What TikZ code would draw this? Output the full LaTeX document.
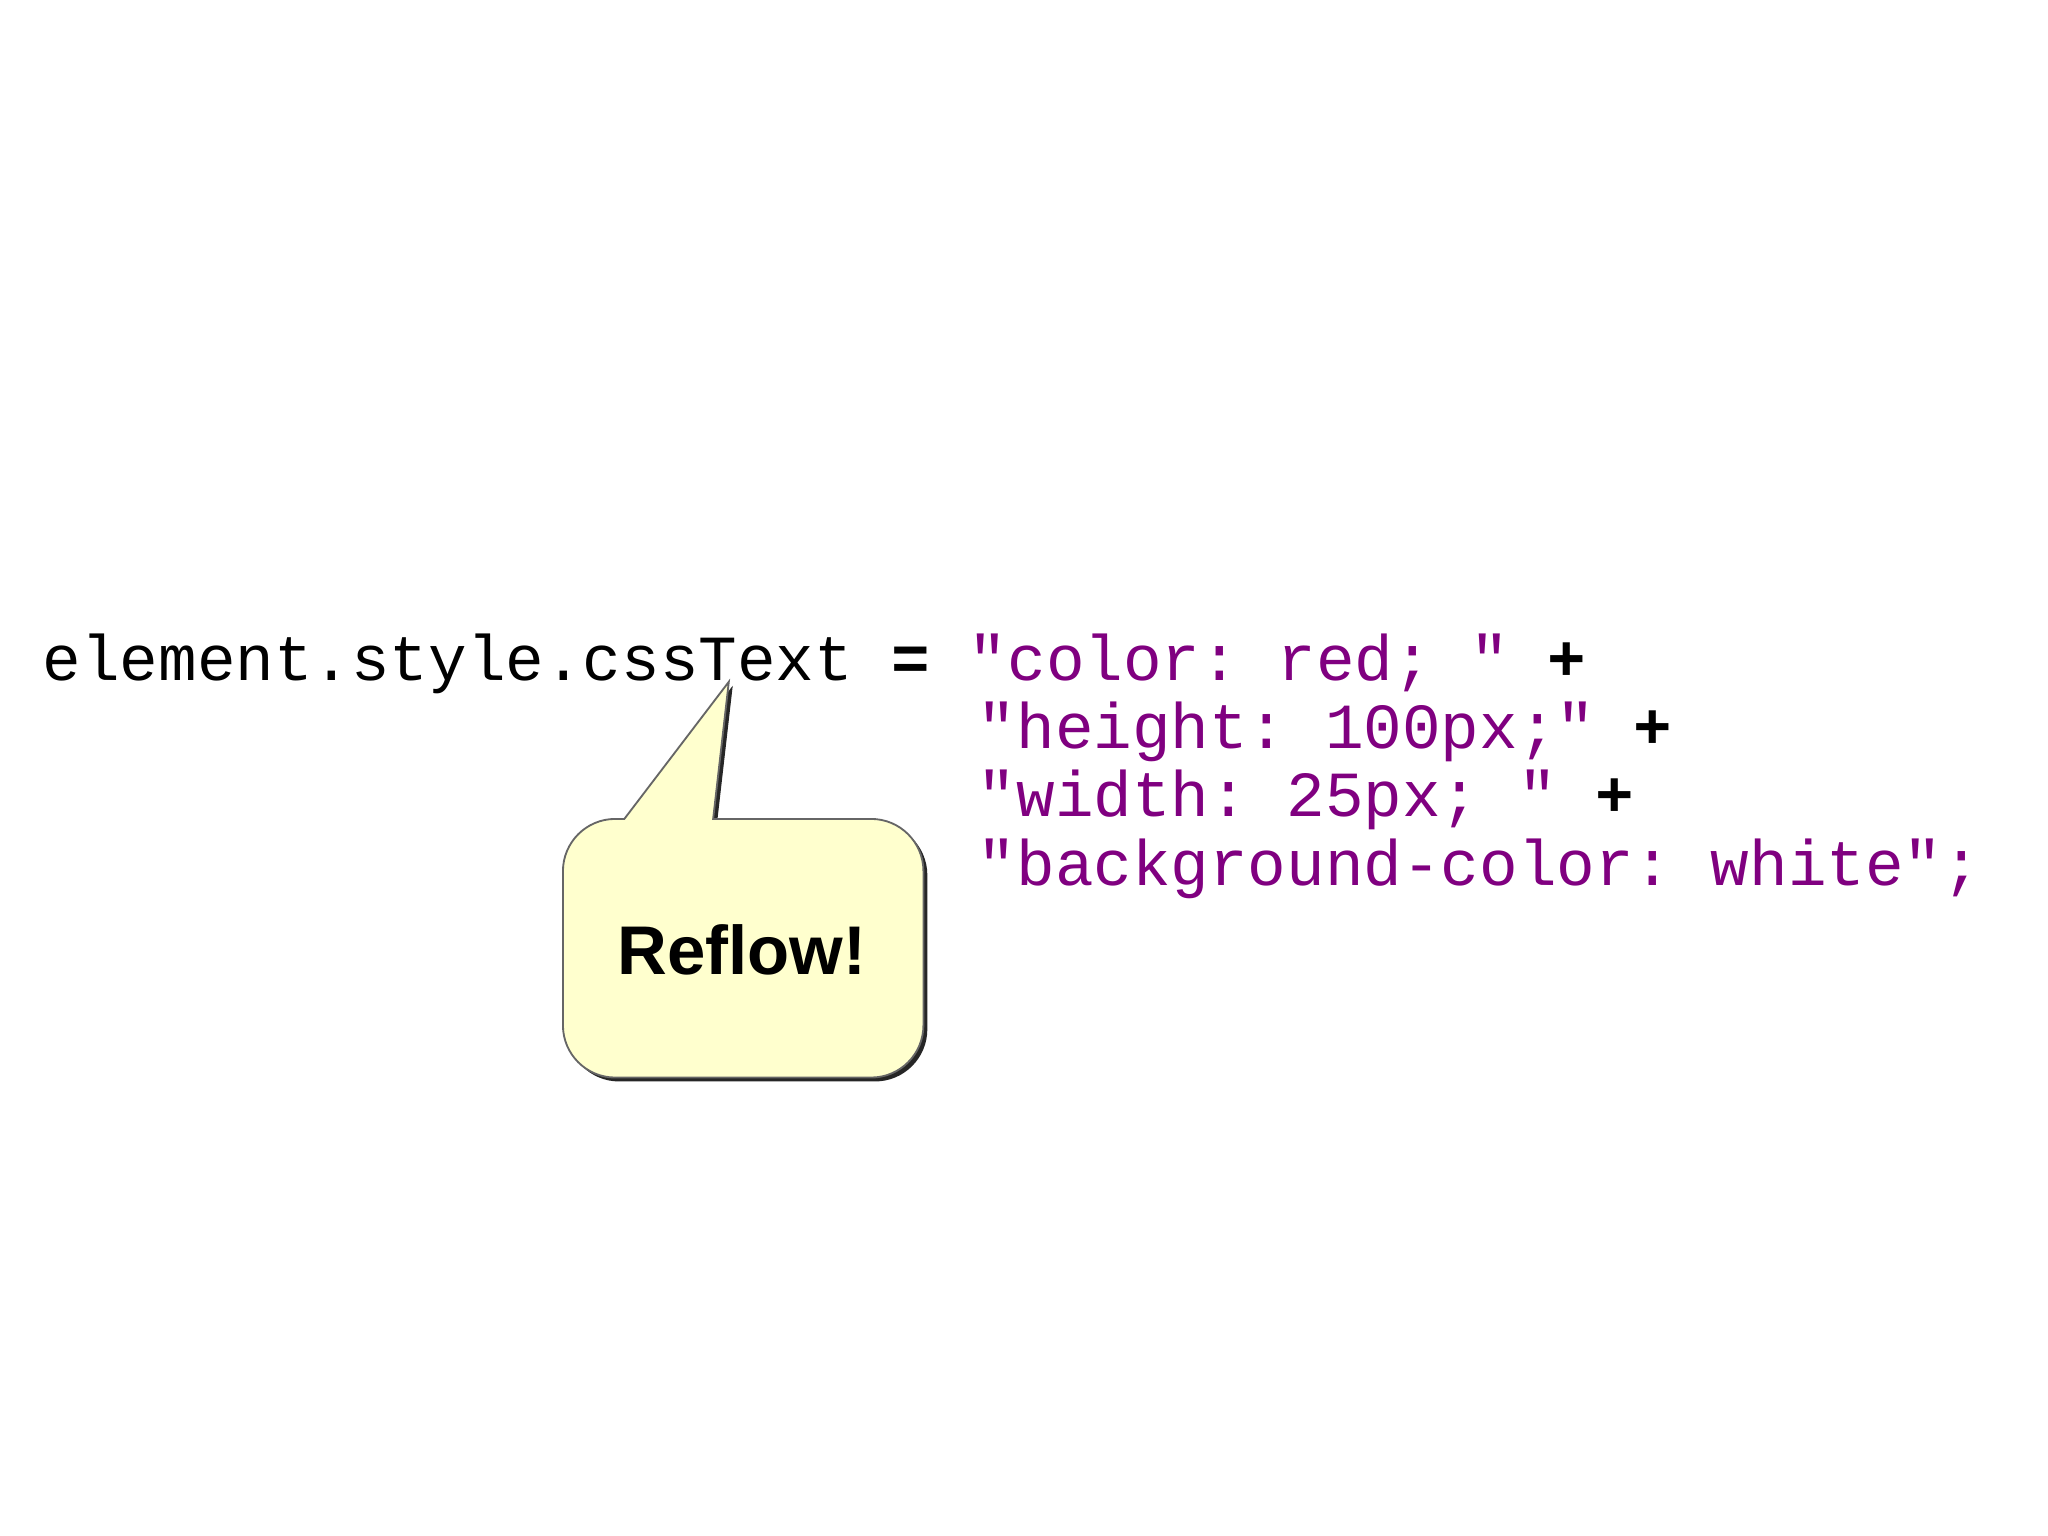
\documentclass[tikz,border=0pt]{standalone}
\usepackage{fontspec}
\setmainfont{Liberation Sans}
\setmonofont{Liberation Mono}
\definecolor{codepurple}{RGB}{128,0,128}
\definecolor{callfill}{RGB}{255,255,206}
\begin{document}
\begin{tikzpicture}[x=0.01cm,y=-0.01cm,
  code/.style={anchor=base west,inner sep=0pt,font=\ttfamily\fontsize{14pt}{16pt}\selectfont}]
\useasboundingbox[fill=white] (0,0) rectangle (1568,1176);
\node[code] (l1) at (32,521) {element.style.cssText~\textbf{=}~\textcolor{codepurple}{"color:~red;~"}~\textbf{+}};
\node[code] (l2) at (748,573) {\textcolor{codepurple}{"height:~100px;"}~\textbf{+}};
\node[code] (l3) at (748,625) {\textcolor{codepurple}{"width:~25px;~"}~\textbf{+}};
\node[code] (l4) at (748,678) {\textcolor{codepurple}{"background-color:~white";}};
\def\callpath{(478,627) -- (558,522) -- (546,627) -- (667,627) arc[start angle=270,end angle=360,radius=40] -- (707,785) arc[start angle=0,end angle=90,radius=40] -- (471,825) arc[start angle=90,end angle=180,radius=40] -- (431,667) arc[start angle=180,end angle=270,radius=40] -- cycle}
\begin{scope}[shift={(3,3)}]
\fill[black!85] \callpath;
\end{scope}
\draw[fill=callfill,draw=black!60,line width=0.4pt] \callpath;
\node[font=\bfseries\fontsize{15pt}{18pt}\selectfont] (reflow) at (568,727) {Reflow!};
\end{tikzpicture}
\end{document}
